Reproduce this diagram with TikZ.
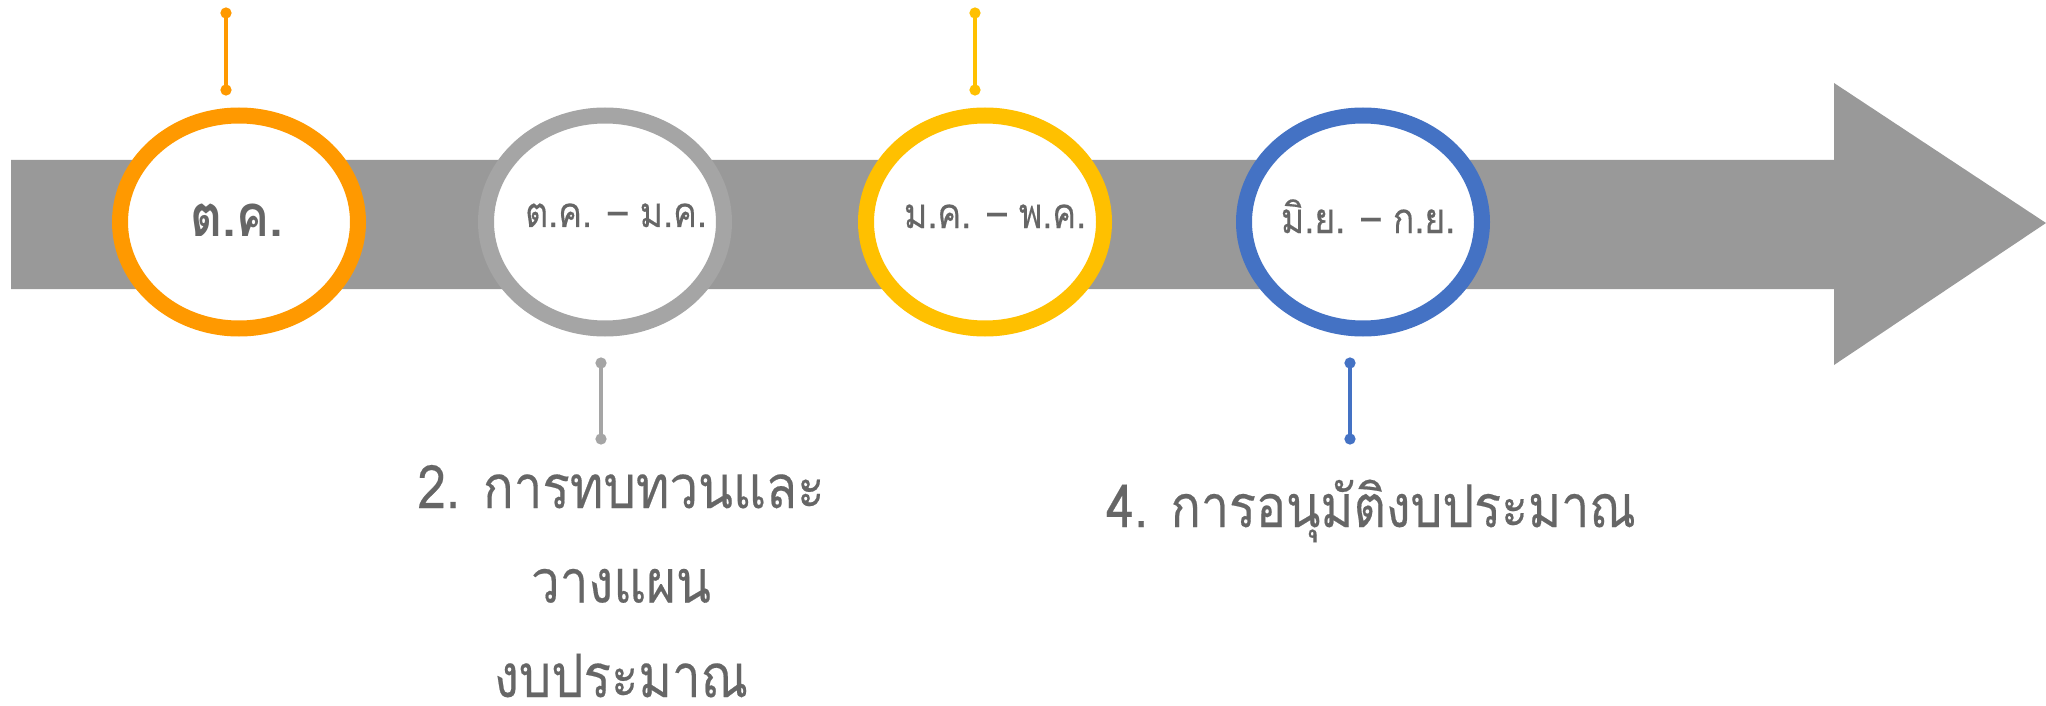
\documentclass[tikz,border=0pt]{standalone}
\usepackage{fontspec}
\newfontfamily\thaifont[Script=Thai,FakeStretch=0.85,FakeBold=0.3]{Loma}
\newfontfamily\thaiboldfont[Script=Thai,FakeStretch=0.85]{Loma Bold}
\usetikzlibrary{shapes.geometric,arrows.meta}
\definecolor{barGray}{HTML}{999999}
\definecolor{ringOrange}{HTML}{FF9900}
\definecolor{ringGray}{HTML}{A5A5A5}
\definecolor{ringYellow}{HTML}{FFC000}
\definecolor{ringBlue}{HTML}{4472C4}
\definecolor{txtGray}{HTML}{666666}

\begin{document}
\begin{tikzpicture}[x=0.5pt,y=-0.5pt,
  ring/.style={ellipse, draw=#1, line width=8pt, fill=white,
    minimum width=119pt, minimum height=106.5pt, inner sep=0pt},
  pin/.style={draw=#1, line width=1.75pt,
    {Circle[length=5.5pt]}-{Circle[length=5.5pt]},
    shorten <=-2.75pt, shorten >=-2.75pt},
  month/.style={text=txtGray, anchor=base, inner sep=0pt,
    font=\thaifont\fontsize{21pt}{25pt}\selectfont},
  monthbig/.style={month, font=\thaiboldfont\fontsize{29pt}{33pt}\selectfont},
  stage/.style={text=txtGray, anchor=base, inner sep=0pt, align=center,
    font=\thaifont\fontsize{30pt}{47.25pt}\selectfont}
]
  \useasboundingbox (0,0) rectangle (2046,706);

  % timeline arrow
  \fill[barGray] (11,160) -- (1834,160) -- (1834,83) -- (2046,223)
    -- (1834,365) -- (1834,289) -- (11,289) -- cycle;

  % month rings
  \node[ring=ringOrange] (r1) at (239,222) {};
  \node[ring=ringGray]   (r2) at (605,222) {};
  \node[ring=ringYellow] (r3) at (985,222) {};
  \node[ring=ringBlue]   (r4) at (1363,222) {};

  \node[monthbig] (m1) at (237,236) {ต.ค.};
  \node[month]    (m2) at (616,227) {ต.ค. – ม.ค.};
  \node[month]    (m3) at (995,228) {ม.ค. – พ.ค.};
  \node[month]    (m4) at (1368,233) {มิ.ย. – ก.ย.};

  % pins
  \coordinate (p1a) at (226,13);  \coordinate (p1b) at (226,90);
  \coordinate (p2a) at (601,363); \coordinate (p2b) at (601,439);
  \coordinate (p3a) at (975,13);  \coordinate (p3b) at (975,90);
  \coordinate (p4a) at (1350,363); \coordinate (p4b) at (1350,439);
  \draw[pin=ringOrange] (p1a) -- (p1b);
  \draw[pin=ringGray]   (p2a) -- (p2b);
  \draw[pin=ringYellow] (p3a) -- (p3b);
  \draw[pin=ringBlue]   (p4a) -- (p4b);

  % stage labels (base anchor sits on the last line)
  \node[stage] (s2) at (621,697) {2. การทบทวนและ\\วางแผน\\งบประมาณ};
  \node[stage, font=\thaifont\fontsize{29.5pt}{35pt}\selectfont]
    (s4) at (1371,527) {4. การอนุมัติงบประมาณ};
\end{tikzpicture}
\end{document}
